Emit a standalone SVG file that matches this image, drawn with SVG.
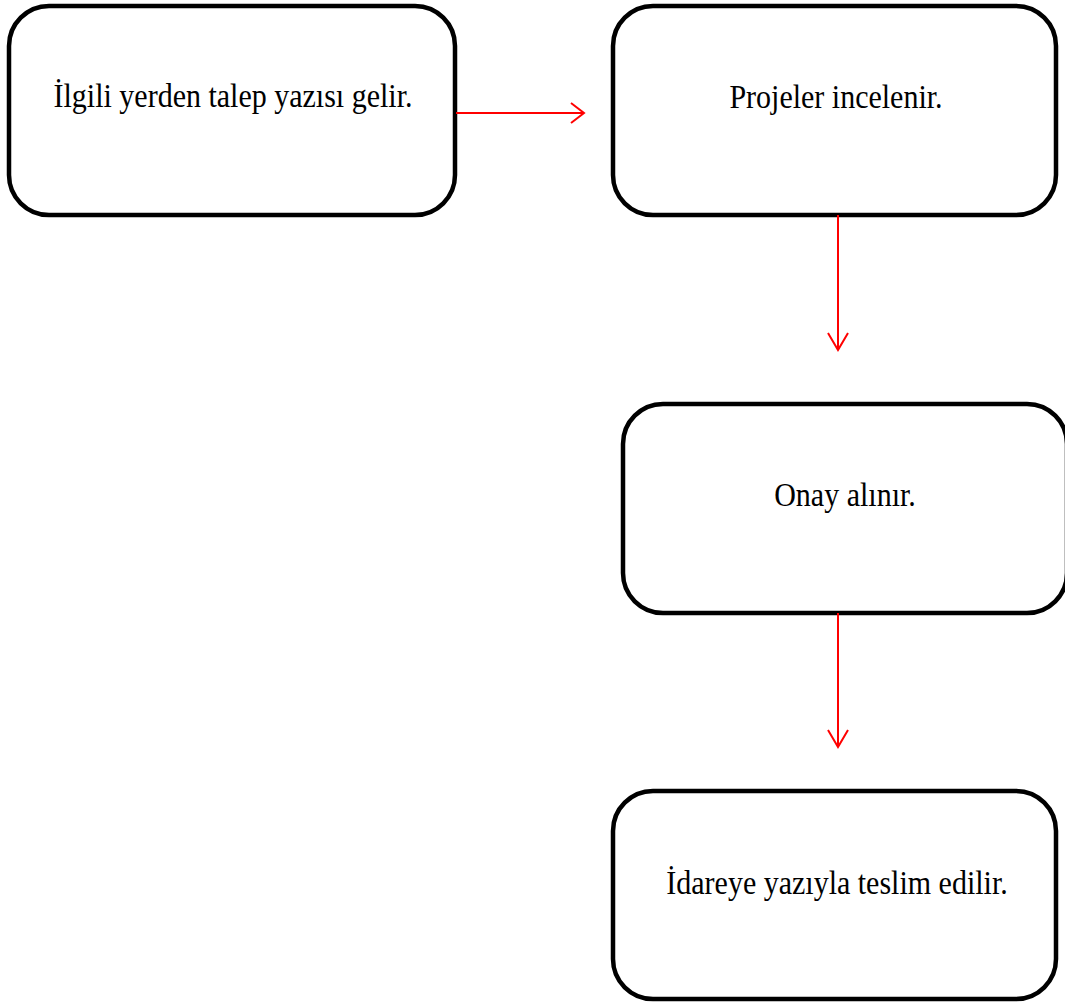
<svg xmlns="http://www.w3.org/2000/svg" width="1065" height="1002" viewBox="0 0 1065 1002">
  <style>
    .box { fill: #ffffff; stroke: #000000; stroke-width: 4.5; }
    .label { font-family: "Liberation Serif", "Times New Roman", serif; font-size: 30px; fill: #000000; text-anchor: middle; }
    .link { fill: none; stroke: #ff0000; stroke-width: 2; }
  </style>
  <rect width="1065" height="1002" fill="#ffffff"/>

  <!-- labels are slightly stretched vertically around their baseline -->
  <g id="node-talep">
    <rect class="box" x="9" y="6" width="446" height="209" rx="40" ry="40"/>
    <text class="label" transform="translate(233 107) scale(1 1.13)">İlgili yerden talep yazısı gelir.</text>
  </g>

  <g id="node-projeler">
    <rect class="box" x="613" y="6" width="443" height="209" rx="40" ry="40"/>
    <text class="label" transform="translate(836 108) scale(1 1.13)">Projeler incelenir.</text>
  </g>

  <g id="node-onay">
    <rect class="box" x="623" y="404" width="444" height="209" rx="40" ry="40"/>
    <text class="label" transform="translate(845 506) scale(1 1.13)">Onay alınır.</text>
  </g>

  <g id="node-teslim">
    <rect class="box" x="613" y="791" width="443" height="208" rx="40" ry="40"/>
    <text class="label" transform="translate(837 894) scale(1 1.13)">İdareye yazıyla teslim edilir.</text>
  </g>

  <g id="connectors">
    <path class="link" d="M456 113 H584"/>
    <path class="link" d="M571 103 L584 113 L571 123"/>
    <path class="link" d="M838 215 V350"/>
    <path class="link" d="M828 333 L838 350 L848 333"/>
    <path class="link" d="M838 613 V747"/>
    <path class="link" d="M828 730 L838 747 L848 730"/>
  </g>
</svg>
